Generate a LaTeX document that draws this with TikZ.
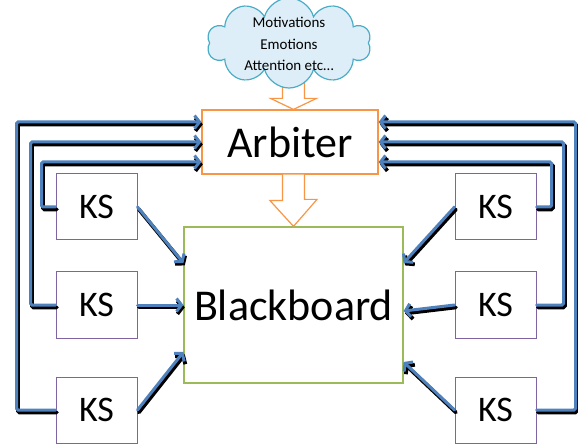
\documentclass[tikz,border=0pt]{standalone}
\usepackage{fontspec}
\setmainfont{Carlito}
\usetikzlibrary{arrows.meta,shapes.symbols}
\definecolor{ksblue}{RGB}{79,129,189}
\definecolor{kspurple}{RGB}{128,100,162}
\definecolor{arborange}{RGB}{247,150,70}
\definecolor{bbgreen}{RGB}{155,187,89}
\definecolor{cloudline}{RGB}{75,172,198}
\definecolor{cloudfill}{RGB}{222,238,248}
\tikzset{
  ksbox/.style={draw=kspurple,line width=1pt,minimum width=81pt,minimum height=66pt,inner sep=0pt,font=\fontsize{36}{36}\selectfont},
  fb/.style={draw=ksblue,line width=3pt,rounded corners=1.5pt,-{Straight Barb[length=5pt,width=13pt]},
    preaction={draw=black,line width=3.8pt,transform canvas={shift={(1.4pt,-2.4pt)}}}},
  hollow/.style={draw=arborange,line width=1.2pt,fill=white,line join=miter}
}
\begin{document}
\begin{tikzpicture}[x=1pt,y=-1pt,line cap=round]
\useasboundingbox (0,0) rectangle (578,446);
% boxes
\node[draw=arborange,line width=1.2pt,minimum width=176pt,minimum height=64pt,inner sep=0pt,
  font=\fontsize{44}{44}\selectfont] (arb) at (290,142) {Arbiter};
\node[draw=bbgreen,line width=1.2pt,minimum width=219pt,minimum height=156pt,inner sep=0pt,
  font=\fontsize{44}{44}\selectfont] (bb) at (293.5,305) {Blackboard};
\node[ksbox] (ksL1) at (96.5,207) {KS};
\node[ksbox] (ksL2) at (96.5,305) {KS};
\node[ksbox] (ksL3) at (96.5,410) {KS};
\node[ksbox] (ksR1) at (495.5,207) {KS};
\node[ksbox] (ksR2) at (495.5,305) {KS};
\node[ksbox] (ksR3) at (495.5,410) {KS};
% hollow arrows
\coordinate (tipA) at (bb.north |- arb.north);
\draw[hollow] ([xshift=-11pt]tipA) ++(0,-30) -- ++(0,19) -- ++(-12,0) -- (tipA) -- ++(23,-11) -- ++(-12,0) -- ++(0,-19);
\coordinate (tipB) at (bb.north);
\draw[hollow] ([xshift=-11pt]tipB |- arb.south) -- ++(0,26) -- ++(-12.5,0) -- (tipB) -- ++(23.5,-27) -- ++(-12.5,0) -- ([xshift=11pt]tipB |- arb.south);
% cloud
\node[cloud,cloud puffs=10,aspect=1.9,draw=cloudline,line width=1.2pt,fill=cloudfill,
  minimum width=164pt,minimum height=90pt,inner sep=0pt] (mot) at (289,43) {};
\node[align=center,inner sep=0pt,font=\fontsize{15}{21.5}\selectfont] (motTxt) at ([yshift=-1pt]mot.center) {Motivations\\Emotions\\Attention etc\dots};
% feedback to arbiter
\draw[fb] (ksL1.west) -- ++(-14,0) |- ([yshift=-20pt]arb.west);
\draw[fb] (ksL2.west) -- ++(-25,0) |- (arb.west);
\draw[fb] (ksL3.west) -- ++(-39,0) |- ([yshift=20pt]arb.west);
\draw[fb] (ksR1.east) -- ++(15,0) |- ([yshift=-20pt]arb.east);
\draw[fb] (ksR2.east) -- ++(27,0) |- (arb.east);
\draw[fb] (ksR3.east) -- ++(39,0) |- ([yshift=20pt]arb.east);
% ks to blackboard
\draw[fb] (ksL1.east) -- ([yshift=42pt]bb.west);
\draw[fb] (ksL2.east) -- (bb.west |- ksL2.east);
\draw[fb] (ksL3.east) -- ([yshift=-47pt]bb.west);
\draw[fb] (ksR1.west) -- ([yshift=42pt]bb.east);
\draw[fb] (ksR2.west) -- ([yshift=-6pt]bb.east);
\draw[fb] (ksR3.west) -- ([yshift=-57pt]bb.east);
\end{tikzpicture}
\end{document}
